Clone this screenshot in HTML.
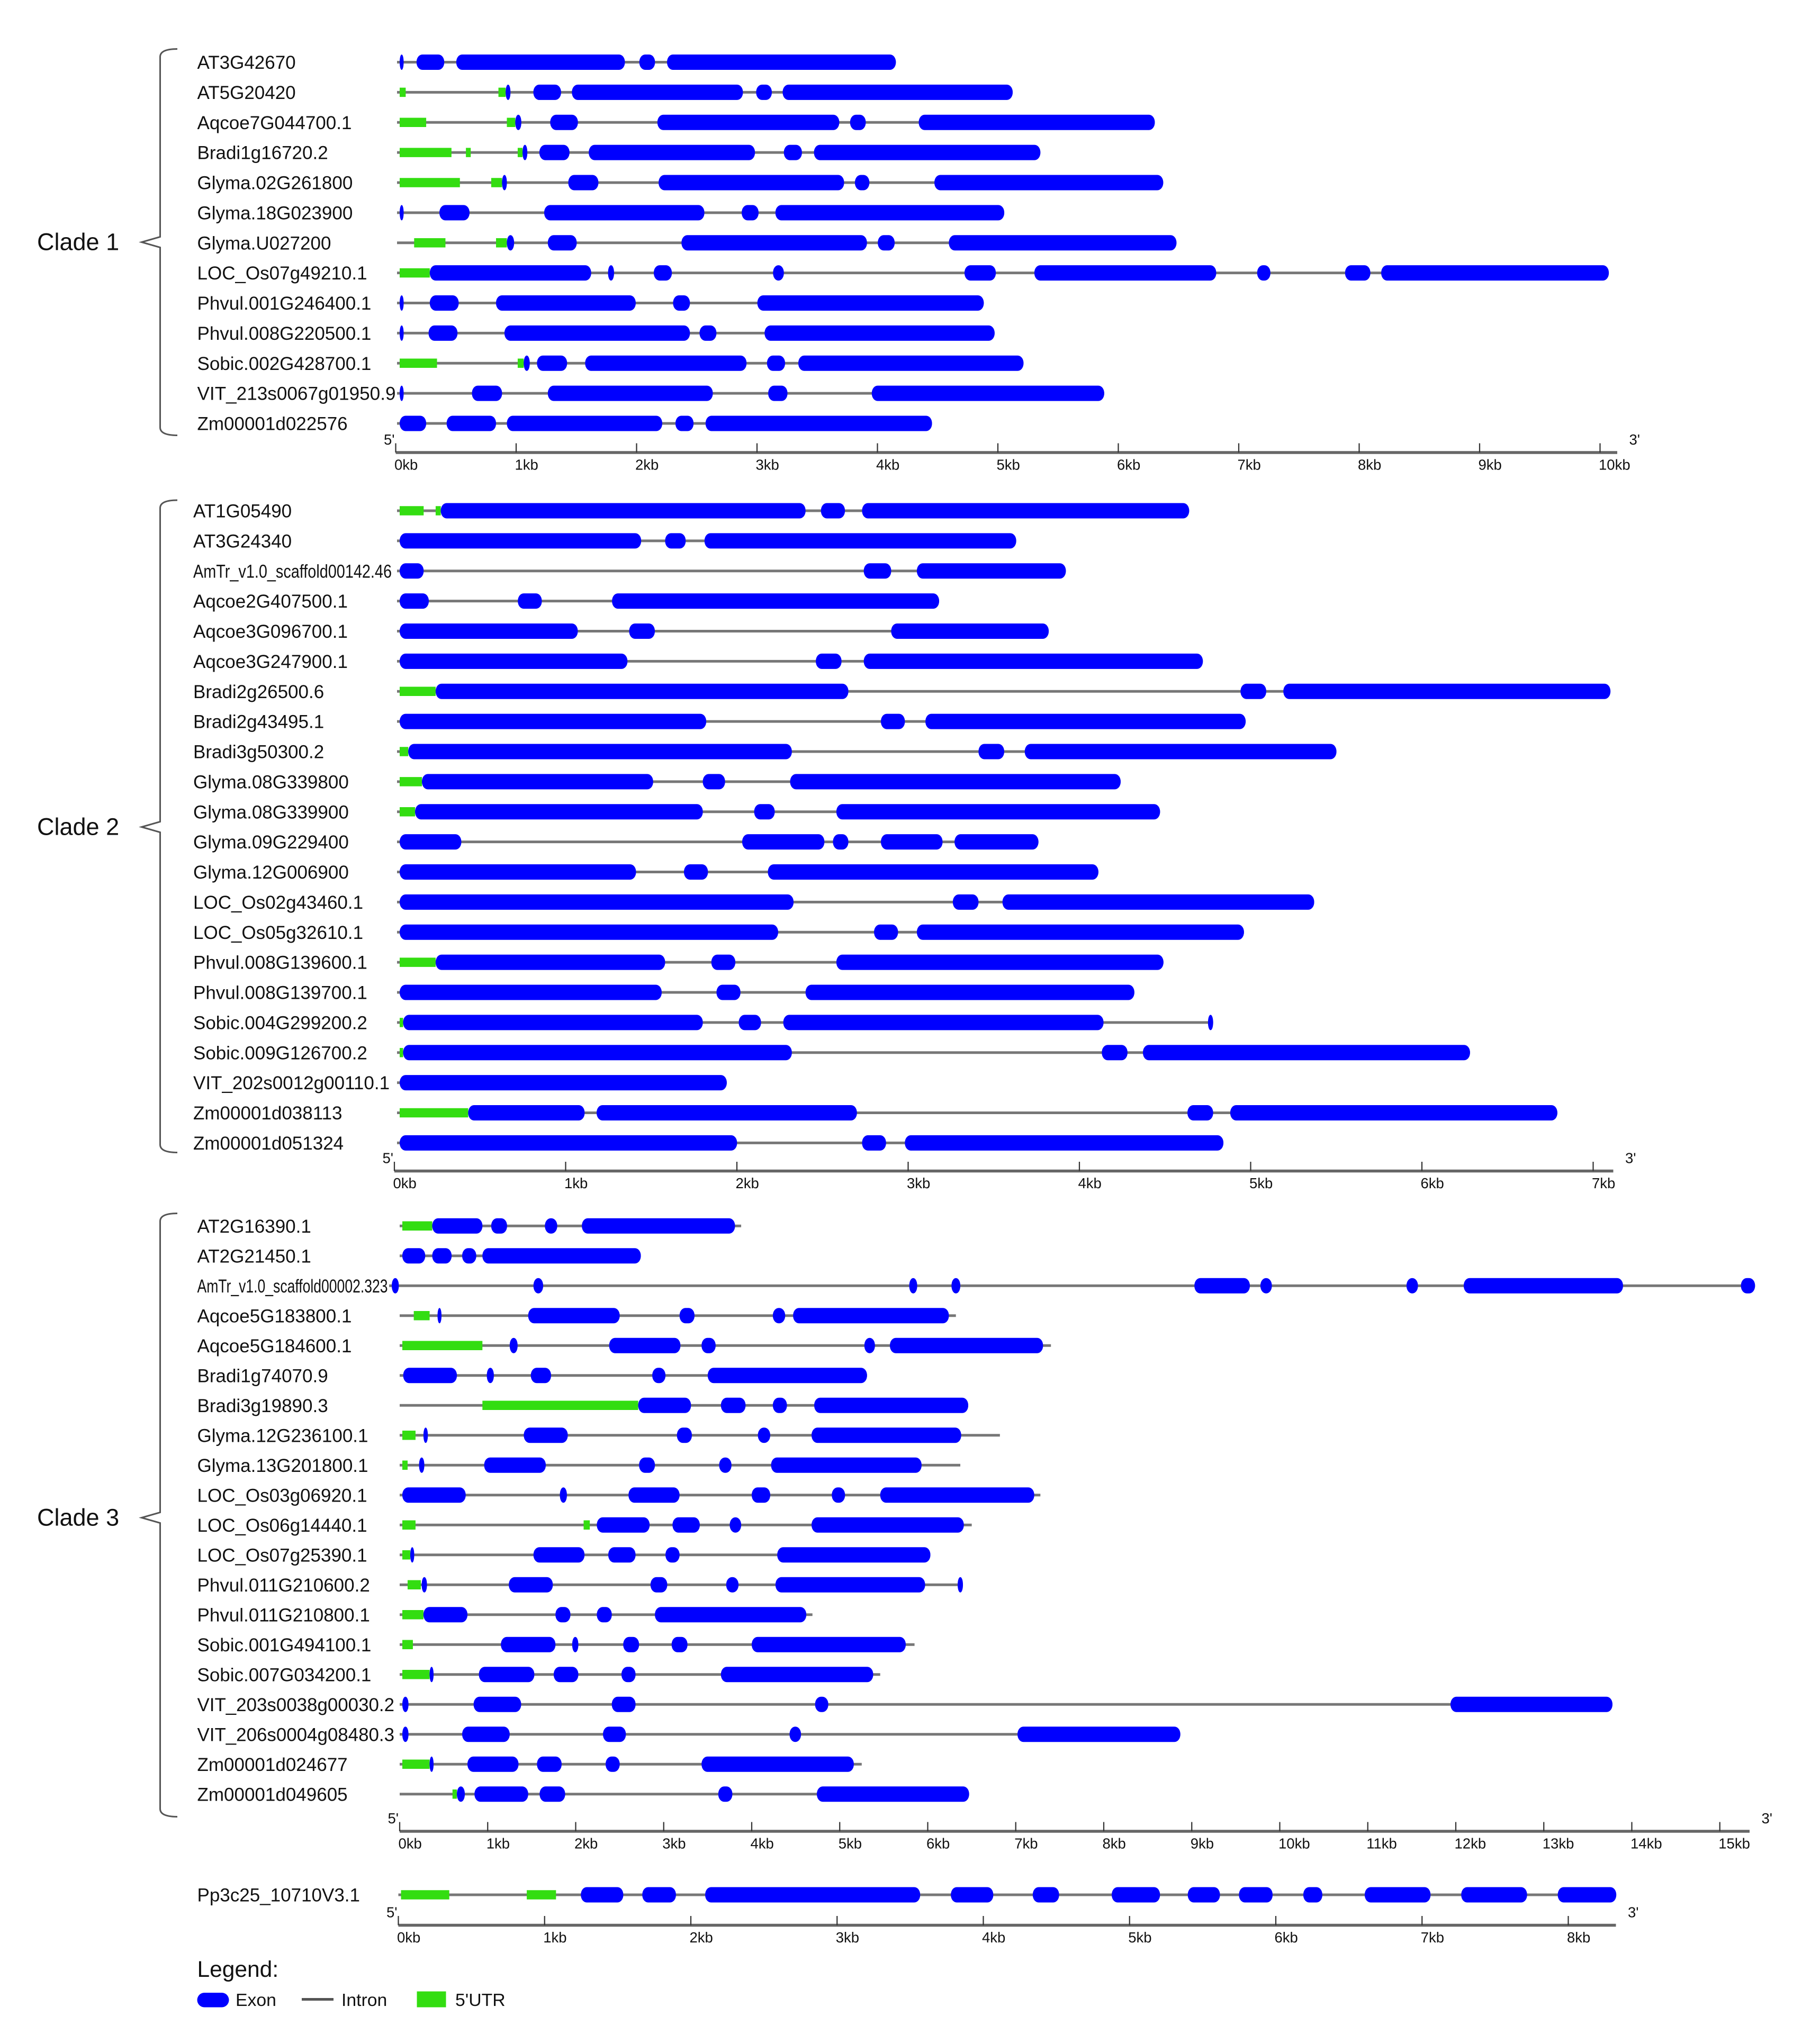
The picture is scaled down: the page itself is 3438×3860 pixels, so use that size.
<!DOCTYPE html>
<html><head><meta charset="utf-8"><style>
html,body{margin:0;padding:0;background:#fff}
svg{display:block}
text{font-family:"Liberation Sans",sans-serif;fill:#111}
</style></head><body>
<svg id="chart" xmlns="http://www.w3.org/2000/svg" width="3438" height="3860" viewBox="0 0 1375.2 1544"></svg>
<script>
// ---- data (kb) ----
const c1Names=["AT3G42670","AT5G20420","Aqcoe7G044700.1","Bradi1g16720.2","Glyma.02G261800","Glyma.18G023900","Glyma.U027200","LOC_Os07g49210.1","Phvul.001G246400.1","Phvul.008G220500.1","Sobic.002G428700.1","VIT_213s0067g01950.9","Zm00001d022576"];
const c1Exons=[
[[0,0.03],[0.14,0.37],[0.47,1.87],[1.99,2.12],[2.22,4.12]],
[[0.88,0.92],[1.11,1.34],[1.43,2.85],[2.96,3.09],[3.18,5.09]],
[[0.96,1.01],[1.25,1.48],[2.14,3.65],[3.74,3.87],[4.31,6.27]],
[[1.02,1.06],[1.16,1.41],[1.57,2.95],[3.19,3.34],[3.44,5.32]],
[[0.85,0.89],[1.4,1.65],[2.15,3.69],[3.78,3.9],[4.44,6.34]],
[[0,0.03],[0.33,0.58],[1.2,2.53],[2.84,2.98],[3.12,5.02]],
[[0.89,0.95],[1.23,1.47],[2.34,3.88],[3.97,4.11],[4.56,6.45]],
[[0.25,1.59],[1.73,1.78],[2.11,2.26],[3.1,3.19],[4.69,4.95],[5.27,6.78],[7.12,7.23],[7.85,8.06],[8.15,10.04]],
[[0,0.03],[0.25,0.49],[0.8,1.96],[2.27,2.41],[2.97,4.85]],
[[0,0.03],[0.24,0.48],[0.87,2.41],[2.49,2.63],[3.03,4.94]],
[[1.03,1.08],[1.14,1.39],[1.54,2.88],[3.05,3.2],[3.31,5.18]],
[[0,0.03],[0.6,0.85],[1.23,2.6],[3.06,3.22],[3.92,5.85]],
[[0,0.22],[0.39,0.8],[0.89,2.18],[2.29,2.44],[2.54,4.42]]];
const c1Utrs=[[],[[0,0.05],[0.82,0.88]],[[0,0.22],[0.89,0.96]],[[0,0.43],[0.55,0.59],[0.98,1.02]],[[0,0.5],[0.76,0.85]],[],[[0.12,0.38],[0.8,0.89]],[[0,0.25]],[],[],[[0,0.31],[0.98,1.03]],[],[]];
const c1Ticks=["0kb","1kb","2kb","3kb","4kb","5kb","6kb","7kb","8kb","9kb","10kb"];

const c2Names=["AT1G05490","AT3G24340","AmTr_v1.0_scaffold00142.46","Aqcoe2G407500.1","Aqcoe3G096700.1","Aqcoe3G247900.1","Bradi2g26500.6","Bradi2g43495.1","Bradi3g50300.2","Glyma.08G339800","Glyma.08G339900","Glyma.09G229400","Glyma.12G006900","LOC_Os02g43460.1","LOC_Os05g32610.1","Phvul.008G139600.1","Phvul.008G139700.1","Sobic.004G299200.2","Sobic.009G126700.2","VIT_202s0012g00110.1","Zm00001d038113","Zm00001d051324"];
const c2Exons=[
[[0.24,2.37],[2.46,2.6],[2.7,4.61]],
[[0,1.41],[1.55,1.67],[1.78,3.6]],
[[0,0.14],[2.71,2.87],[3.02,3.89]],
[[0,0.17],[0.69,0.83],[1.24,3.15]],
[[0,1.04],[1.34,1.49],[2.87,3.79]],
[[0,1.33],[2.43,2.58],[2.71,4.69]],
[[0.21,2.62],[4.91,5.06],[5.16,7.07]],
[[0,1.79],[2.81,2.95],[3.07,4.94]],
[[0.05,2.29],[3.38,3.53],[3.65,5.47]],
[[0.13,1.48],[1.77,1.9],[2.28,4.21]],
[[0.09,1.77],[2.07,2.19],[2.55,4.44]],
[[0,0.36],[2.0,2.48],[2.53,2.62],[2.81,3.17],[3.24,3.73]],
[[0,1.38],[1.66,1.8],[2.15,4.08]],
[[0,2.3],[3.23,3.38],[3.52,5.34]],
[[0,2.21],[2.77,2.91],[3.02,4.93]],
[[0.21,1.55],[1.82,1.96],[2.55,4.46]],
[[0,1.53],[1.85,1.99],[2.37,4.29]],
[[0.02,1.77],[1.98,2.11],[2.24,4.11],[4.72,4.75]],
[[0.02,2.29],[4.1,4.25],[4.34,6.25]],
[[0,1.91]],
[[0.4,1.08],[1.15,2.67],[4.6,4.75],[4.85,6.76]],
[[0,1.97],[2.7,2.84],[2.95,4.81]]];
const c2Utrs=[[[0,0.14],[0.21,0.24]],[],[],[],[],[],[[0,0.21]],[],[[0,0.05]],[[0,0.13]],[[0,0.09]],[],[],[],[],[[0,0.21]],[],[[0,0.02]],[[0,0.02]],[],[[0,0.4]],[]];
const c2Ticks=["0kb","1kb","2kb","3kb","4kb","5kb","6kb","7kb"];

const c3Names=["AT2G16390.1","AT2G21450.1","AmTr_v1.0_scaffold00002.323","Aqcoe5G183800.1","Aqcoe5G184600.1","Bradi1g74070.9","Bradi3g19890.3","Glyma.12G236100.1","Glyma.13G201800.1","LOC_Os03g06920.1","LOC_Os06g14440.1","LOC_Os07g25390.1","Phvul.011G210600.2","Phvul.011G210800.1","Sobic.001G494100.1","Sobic.007G034200.1","VIT_203s0038g00030.2","VIT_206s0004g08480.3","Zm00001d024677","Zm00001d049605"];
const c3Exons=[
[[0.34,0.91],[1.01,1.19],[1.62,1.76],[2.04,3.78]],
[[0,0.26],[0.34,0.56],[0.68,0.84],[0.91,2.71]],
[[-0.12,-0.04],[1.49,1.6],[5.76,5.85],[6.24,6.34],[9.0,9.63],[9.75,9.88],[11.41,11.54],[12.06,13.87],[15.21,15.37]],
[[0.4,0.44],[1.43,2.47],[3.15,3.32],[4.21,4.35],[4.44,6.21]],
[[1.22,1.31],[2.35,3.16],[3.4,3.56],[5.25,5.37],[5.54,7.28]],
[[0.01,0.62],[0.96,1.04],[1.46,1.69],[2.84,2.99],[3.47,5.28]],
[[2.68,3.28],[3.62,3.9],[4.21,4.37],[4.68,6.43]],
[[0.24,0.29],[1.38,1.88],[3.12,3.29],[4.04,4.18],[4.65,6.35]],
[[0.19,0.25],[0.93,1.63],[2.69,2.87],[3.6,3.74],[4.19,5.9]],
[[0,0.72],[1.79,1.87],[2.57,3.15],[3.97,4.18],[4.88,5.03],[5.43,7.18]],
[[2.21,2.81],[3.07,3.38],[3.72,3.85],[4.65,6.38]],
[[0.09,0.13],[1.49,2.07],[2.34,2.65],[2.99,3.15],[4.26,6.0]],
[[0.22,0.28],[1.21,1.71],[2.82,3.01],[3.68,3.82],[4.24,5.94],[6.31,6.37]],
[[0.24,0.74],[1.74,1.91],[2.21,2.38],[2.87,4.59]],
[[1.12,1.74],[1.93,2.0],[2.51,2.69],[3.06,3.24],[3.97,5.72]],
[[0.31,0.35],[0.87,1.5],[1.72,2.0],[2.49,2.65],[3.62,5.35]],
[[0,0.07],[0.81,1.35],[2.38,2.65],[4.69,4.84],[11.91,13.75]],
[[0,0.07],[0.68,1.22],[2.28,2.54],[4.4,4.53],[6.99,8.84]],
[[0.31,0.35],[0.74,1.32],[1.53,1.81],[2.31,2.47],[3.4,5.13]],
[[0.62,0.71],[0.82,1.43],[1.56,1.85],[3.59,3.75],[4.71,6.44]]];
const c3Utrs=[[[0,0.34]],[],[],[[0.13,0.31]],[[0,0.91]],[],[[0.91,2.68]],[[0,0.15]],[[0,0.06]],[],[[0,0.15],[2.06,2.13]],[[0,0.09]],[[0.06,0.21]],[[0,0.24]],[[0,0.12]],[[0,0.31]],[],[],[[0,0.31]],[[0.57,0.62]]];
const c3SpanEnd=[3.85,null,null,6.29,7.37,null,null,6.79,6.34,7.25,6.47,null,null,4.66,5.82,5.43,null,null,5.22,null];
const c3Ticks=["0kb","1kb","2kb","3kb","4kb","5kb","6kb","7kb","8kb","9kb","10kb","11kb","12kb","13kb","14kb","15kb"];

const ppNames=["Pp3c25_10710V3.1"];
const ppExons=[[[1.23,1.52],[1.65,1.88],[2.08,3.55],[3.76,4.05],[4.32,4.5],[4.86,5.19],[5.38,5.6],[5.73,5.96],[6.17,6.3],[6.59,7.04],[7.25,7.7],[7.91,8.31]]];
const ppUtrs=[[[0,0.33],[0.86,1.06]]];
const ppTicks=["0kb","1kb","2kb","3kb","4kb","5kb","6kb","7kb","8kb"];

// ---- drawing ----
const NS="http://www.w3.org/2000/svg";
const svg=document.getElementById('chart');
function mk(tag,attrs,parent){const e=document.createElementNS(NS,tag);for(const k in attrs)e.setAttribute(k,attrs[k]);(parent||svg).appendChild(e);return e;}

function drawPanel(key,names,exons,utrs,spanEnd,ticks,x0,s,y0,dy,labelX,axisY,axisEnd,condensed,markOff){
  const g=mk('g',{});
  
  
  const xa=v=>x0+v*s;
  const xs=v=>x0+markOff+v*s;
  names.forEach((nm,i)=>{
    const y=y0+i*dy;
    const row=mk('g',{},g);
    
    
    const lab=mk('text',{x:labelX,y:y+5,'font-size':14},row);
    lab.textContent=nm;
    
    
    if(condensed[nm]){lab.setAttribute('textLength',condensed[nm]);lab.setAttribute('lengthAdjust','spacingAndGlyphs');}
    let all=exons[i].concat(utrs[i]);
    let a=Math.min(...all.map(e=>e[0])), b=Math.max(...all.map(e=>e[1]));
    a=Math.min(a,0);
    if(spanEnd&&spanEnd[i]!=null)b=Math.max(b,spanEnd[i]);
    const ln=mk('line',{x1:xs(a)-2,x2:xs(b),y1:y,y2:y,stroke:'#777','stroke-width':2},row);
    
    
    utrs[i].forEach(u=>{
      const r=mk('rect',{x:xs(u[0]),y:y-3.5,width:Math.max(1.5,(u[1]-u[0])*s),height:7,fill:'#33dd11'},row);
      
      
    });
    exons[i].forEach(e=>{
      const w=Math.max(3,(e[1]-e[0])*s);
      const r=mk('rect',{x:xs(e[0]),y:y-5.8,width:w,height:11.6,rx:Math.min(4.5,w/2),ry:5.5,fill:'#0000ff'},row);
      
      
    });
  });
  // axis
  const ax=mk('g',{},g);
  
  
  mk('line',{x1:x0,x2:axisEnd,y1:axisY,y2:axisY,stroke:'#666','stroke-width':2.2},ax);
  ticks.forEach((t,k)=>{
    mk('line',{x1:xa(k),x2:xa(k),y1:axisY-7,y2:axisY,stroke:'#333','stroke-width':0.9},ax);
    const tl=mk('text',{x:xa(k)-1,y:axisY+13,'font-size':11},ax);
    tl.textContent=t;
    
    
  });
  const p5=mk('text',{x:x0-9,y:axisY-6,'font-size':11},ax);p5.textContent="5'";
  
  
  const p3=mk('text',{x:axisEnd+9,y:axisY-6,'font-size':11},ax);p3.textContent="3'";
  
  
}
function bracket(label,top,bot,mid){
  const g=mk('g',{});
  
  
  mk('path',{d:`M134 ${top} Q121 ${top} 121 ${top+6} L121 ${mid-4} L107 ${mid} L121 ${mid+4} L121 ${bot-6} Q121 ${bot} 134 ${bot}`,fill:'none',stroke:'#555','stroke-width':1.2},g);
  const t=mk('text',{x:28,y:mid+6,'font-size':18},g);
  t.textContent=label;
  
  
}
drawPanel('clade1',c1Names,c1Exons,c1Utrs,null,c1Ticks,299,91,47,22.75,149,342,1222,{"VIT_213s0067g01950.9":150},3);
drawPanel('clade2',c2Names,c2Exons,c2Utrs,null,c2Ticks,298,129.4,386,22.75,146,885,1219,{"AmTr_v1.0_scaffold00142.46":150},4);
drawPanel('clade3',c3Names,c3Exons,c3Utrs,c3SpanEnd,c3Ticks,302,66.5,926.5,22.6,149,1384,1322,{"AmTr_v1.0_scaffold00002.323":144,"VIT_203s0038g00030.2":149,"VIT_206s0004g08480.3":149},2);
drawPanel('outgroup',ppNames,ppExons,ppUtrs,null,ppTicks,301,110.5,1432,22,149,1455,1221,{},2);
bracket('Clade 1',37,329,183);
bracket('Clade 2',378,871,625);
bracket('Clade 3',917,1373,1147);

// legend
const lg=mk('g',{});


const lt=mk('text',{x:149,y:1494,'font-size':17},lg);lt.textContent='Legend:';


const le=mk('rect',{x:149,y:1506,width:24,height:11,rx:5.5,fill:'#0000ff'},lg);


const lx=mk('text',{x:178,y:1516,'font-size':13.5},lg);lx.textContent='Exon';


const li=mk('line',{x1:228,x2:252,y1:1511,y2:1511,stroke:'#555','stroke-width':2},lg);


const lix=mk('text',{x:258,y:1516,'font-size':13.5},lg);lix.textContent='Intron';


const lu=mk('rect',{x:315,y:1505,width:22,height:12,fill:'#33dd11'},lg);


const lux=mk('text',{x:344,y:1516,'font-size':13.5},lg);lux.textContent="5'UTR";


</script>
</body></html>
